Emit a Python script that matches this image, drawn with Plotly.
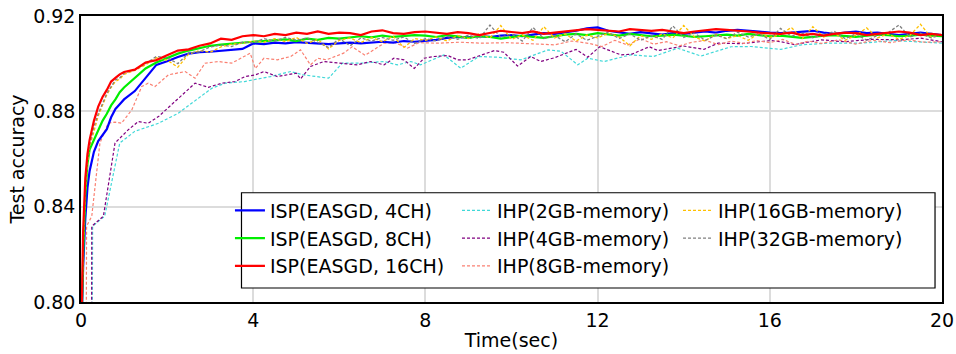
import plotly.graph_objects as go

# ---------------- data ----------------
t_early = [0.0, 0.05, 0.1, 0.15, 0.2, 0.3, 0.4, 0.5, 0.6, 0.7, 0.8, 0.9, 1.0]
t_late = [1.25, 1.5, 1.75, 2.0, 2.25, 2.5, 2.75, 3.0, 3.25, 3.5, 3.75, 4.0,
          4.25, 4.5, 4.75, 5.0, 5.25, 5.5, 5.75, 6.0, 6.25, 6.5, 6.75, 7.0,
          7.25, 7.5, 7.75, 8.0, 8.25, 8.5, 8.75, 9.0, 9.25, 9.5, 9.75, 10.0,
          10.25, 10.5, 10.75, 11.0, 11.25, 11.5, 11.75, 12.0, 12.25, 12.5, 12.75, 13.0,
          13.25, 13.5, 13.75, 14.0, 14.25, 14.5, 14.75, 15.0, 15.25, 15.5, 15.75, 16.0,
          16.25, 16.5, 16.75, 17.0, 17.25, 17.5, 17.75, 18.0, 18.25, 18.5, 18.75, 19.0,
          19.25, 19.5, 19.75, 20.0]
t_grid = t_early + t_late

isp_4ch = [0.78, 0.815, 0.835, 0.848, 0.855, 0.863, 0.8675, 0.870, 0.8725, 0.8775, 0.881, 0.883, 0.885,
           0.8885, 0.894, 0.8995, 0.901, 0.9028, 0.9042, 0.9048, 0.905, 0.9055, 0.906, 0.9062, 0.9085,
           0.9082, 0.9088, 0.9085, 0.909, 0.9088, 0.9085, 0.9082, 0.9085, 0.9088, 0.9085, 0.909, 0.9092,
           0.9088, 0.9095, 0.9092, 0.9095, 0.910, 0.9108, 0.9112, 0.911, 0.9115, 0.9112, 0.9118, 0.912,
           0.9115, 0.9122, 0.9128, 0.9125, 0.913, 0.9138, 0.9148, 0.9152, 0.9138, 0.913, 0.9125, 0.9132,
           0.9128, 0.9122, 0.9128, 0.9125, 0.913, 0.9135, 0.913, 0.9138, 0.9142, 0.914, 0.9135, 0.913,
           0.9128, 0.913, 0.9135, 0.9138, 0.913, 0.9125, 0.913, 0.9135, 0.9128, 0.913, 0.9125, 0.912,
           0.9125, 0.913, 0.9125, 0.912]

isp_8ch = [0.78, 0.82, 0.845, 0.858, 0.864, 0.868, 0.872, 0.876, 0.879, 0.8825, 0.885, 0.888, 0.890,
           0.894, 0.898, 0.9005, 0.9025, 0.9042, 0.9055, 0.9065, 0.9075, 0.908, 0.9085, 0.909, 0.9092,
           0.9095, 0.9098, 0.9102, 0.9095, 0.9105, 0.910, 0.9108, 0.9105, 0.911, 0.9115, 0.911, 0.9118,
           0.9112, 0.9115, 0.912, 0.9118, 0.9112, 0.912, 0.9115, 0.9108, 0.9115, 0.9112, 0.9105, 0.911,
           0.9118, 0.9112, 0.9108, 0.9115, 0.9122, 0.9125, 0.912, 0.9128, 0.9122, 0.9118, 0.9125, 0.912,
           0.9115, 0.9118, 0.9122, 0.9118, 0.9112, 0.9115, 0.912, 0.9122, 0.9118, 0.9125, 0.912, 0.9115,
           0.9118, 0.9112, 0.9108, 0.9112, 0.9118, 0.912, 0.9115, 0.9112, 0.9118, 0.9122, 0.912, 0.9115,
           0.9118, 0.9122, 0.9118, 0.9115]

isp_16ch = [0.78, 0.83, 0.852, 0.862, 0.868, 0.876, 0.882, 0.886, 0.889, 0.8925, 0.894, 0.8955, 0.8965,
            0.8975, 0.9005, 0.9015, 0.9035, 0.9055, 0.906, 0.9075, 0.9085, 0.9105, 0.910, 0.9115, 0.912,
            0.9115, 0.9125, 0.912, 0.913, 0.9125, 0.9135, 0.9125, 0.913, 0.9128, 0.912, 0.9135, 0.914,
            0.9128, 0.9125, 0.9132, 0.9135, 0.913, 0.9125, 0.9132, 0.9128, 0.912, 0.913, 0.9138, 0.9133,
            0.9128, 0.9135, 0.9125, 0.913, 0.9135, 0.9138, 0.9145, 0.9142, 0.914, 0.9135, 0.9145, 0.914,
            0.9138, 0.9142, 0.9135, 0.9128, 0.9135, 0.914, 0.9145, 0.9142, 0.914, 0.9135, 0.913, 0.9128,
            0.9125, 0.913, 0.912, 0.9125, 0.9118, 0.9125, 0.913, 0.9128, 0.912, 0.9125, 0.913, 0.9135,
            0.913, 0.912, 0.9125, 0.912]

ihp_16gb = [0.78, 0.822, 0.846, 0.858, 0.865, 0.872, 0.878, 0.8825, 0.887, 0.890, 0.8925, 0.8935, 0.8955,
            0.8972, 0.8995, 0.9025, 0.9015, 0.8985, 0.904, 0.9055, 0.9048, 0.907, 0.9082, 0.9085, 0.9095,
            0.909, 0.9105, 0.9092, 0.911, 0.9085, 0.9102, 0.9062, 0.9098, 0.9108, 0.9088, 0.911, 0.9092,
            0.9115, 0.9068, 0.9105, 0.9098, 0.9112, 0.9095, 0.9118, 0.9105, 0.9125, 0.9108, 0.916, 0.9102,
            0.912, 0.9098, 0.9155, 0.9108, 0.9125, 0.9095, 0.912, 0.9108, 0.9128, 0.9112, 0.9075, 0.9118,
            0.9102, 0.9125, 0.9108, 0.916, 0.9112, 0.9095, 0.9125, 0.9105, 0.9118, 0.9098, 0.9128, 0.911,
            0.9122, 0.9152, 0.9105, 0.9155, 0.9112, 0.9128, 0.9098, 0.912, 0.915, 0.9108, 0.9125, 0.9102,
            0.9118, 0.9165, 0.911, 0.9125]

ihp_32gb = [0.78, 0.825, 0.848, 0.86, 0.866, 0.8736, 0.879, 0.8834, 0.8875, 0.8904, 0.8932, 0.894, 0.896,
            0.8975, 0.900, 0.903, 0.9025, 0.900, 0.9045, 0.905, 0.907, 0.9078, 0.9072, 0.909, 0.9088,
            0.9105, 0.9095, 0.911, 0.9098, 0.9108, 0.909, 0.9068, 0.9105, 0.9075, 0.9108, 0.9095, 0.911,
            0.9098, 0.9112, 0.9085, 0.9105, 0.9095, 0.9115, 0.9102, 0.912, 0.9105, 0.9162, 0.911, 0.9125,
            0.9095, 0.9152, 0.9105, 0.9118, 0.9092, 0.9125, 0.9098, 0.9115, 0.9132, 0.9105, 0.9125, 0.9098,
            0.9118, 0.9102, 0.9158, 0.911, 0.9128, 0.9098, 0.912, 0.9105, 0.9132, 0.9112, 0.9125, 0.9102,
            0.9148, 0.9115, 0.9128, 0.9108, 0.912, 0.9135, 0.9105, 0.9125, 0.9098, 0.9118, 0.913, 0.9162,
            0.9112, 0.9128, 0.9108, 0.9122]

t_2gb = [0.26, 0.27, 0.55, 0.9, 1.25, 1.8, 2.26, 2.73, 3.04, 3.35, 3.8, 4.4, 4.87, 5.17, 5.75, 6.07,
         6.5, 7.03, 7.35, 7.66, 7.89, 8.43, 8.82, 9.24, 9.68, 10.22, 10.85, 11.15, 11.54, 11.77, 12.15,
         12.77, 13.3, 13.86, 14.4, 15.1, 15.56, 16.26, 16.73, 17.35, 18.12, 18.9, 19.5, 20.0]
ihp_2gb = [0.78, 0.8318, 0.836, 0.8667, 0.8716, 0.875, 0.8792, 0.8855, 0.8897, 0.8918, 0.8925, 0.8946,
           0.8967, 0.8953, 0.8939, 0.9002, 0.9002, 0.9009, 0.8995, 0.9009, 0.8995, 0.9037, 0.8981, 0.903,
           0.9027, 0.9016, 0.9058, 0.9052, 0.8995, 0.9023, 0.9009, 0.9037, 0.903, 0.9065, 0.9032, 0.9071,
           0.9072, 0.906, 0.9079, 0.9086, 0.9086, 0.9097, 0.9092, 0.9086]

t_4gb = [0.245, 0.25, 0.52, 0.79, 1.1, 1.33, 1.56, 1.8, 2.18, 2.65, 2.96, 3.27, 3.58, 3.81, 4.05, 4.25,
         4.56, 5.0, 5.1, 5.33, 5.64, 5.96, 6.42, 6.73, 7.04, 7.27, 7.5, 7.74, 7.97, 8.2, 8.52, 8.75, 8.98,
         9.6, 9.82, 10.14, 10.45, 10.68, 11.0, 11.5, 11.77, 12.05, 12.54, 12.8, 13.2, 13.4, 14.0, 14.47,
         14.8, 15.33, 16.03, 16.26, 16.57, 17.2, 17.73, 18.36, 19.05, 19.5, 20.0]
ihp_4gb = [0.78, 0.8318, 0.836, 0.8667, 0.8723, 0.8757, 0.875, 0.8778, 0.8841, 0.8918, 0.8901, 0.8918,
           0.8925, 0.8946, 0.8953, 0.8967, 0.8946, 0.896, 0.8936, 0.8988, 0.9009, 0.9002, 0.8995, 0.9009,
           0.8995, 0.9023, 0.9016, 0.898, 0.9023, 0.903, 0.9034, 0.9016, 0.9016, 0.9055, 0.9048, 0.899,
           0.903, 0.9009, 0.9025, 0.906, 0.9027, 0.9071, 0.9037, 0.904, 0.9071, 0.9055, 0.9074, 0.906,
           0.9086, 0.9084, 0.9097, 0.9092, 0.908, 0.91, 0.9092, 0.9102, 0.91, 0.9107, 0.9092]

t_8gb = [0.12, 0.13, 0.25, 0.41, 0.44, 0.63, 0.79, 0.94, 1.18, 1.41, 1.56, 1.72, 2.03, 2.42, 2.65, 2.88,
         3.19, 3.5, 3.73, 3.93, 4.05, 4.25, 4.56, 4.87, 5.1, 5.33, 5.5, 5.7, 6.1, 6.3, 6.6, 7.04, 7.3,
         7.58, 7.85, 8.3, 8.8, 9.3, 9.9, 10.5, 11.0, 11.4, 11.8, 12.1, 12.4, 12.7, 13.0, 13.3, 13.6, 13.9,
         14.2, 14.5, 14.8, 15.1, 15.4, 15.7, 16.0, 16.3, 16.6, 16.9, 17.2, 17.6, 18.0, 18.4, 18.8, 19.2,
         19.6, 20.0]
ihp_8gb = [0.78, 0.8318, 0.836, 0.8639, 0.8667, 0.875, 0.8755, 0.875, 0.8806, 0.8904, 0.8918, 0.8904,
           0.8953, 0.8967, 0.8939, 0.9002, 0.9009, 0.9002, 0.9023, 0.9044, 0.898, 0.9023, 0.9016, 0.903,
           0.9058, 0.8995, 0.9023, 0.9016, 0.9044, 0.9071, 0.9035, 0.9086, 0.9088, 0.9065, 0.9088, 0.9086,
           0.909, 0.9086, 0.9088, 0.9084, 0.9079, 0.9095, 0.9085, 0.9072, 0.9098, 0.9078, 0.9105, 0.9082,
           0.9092, 0.9075, 0.909, 0.9098, 0.908, 0.9095, 0.9085, 0.9097, 0.9088, 0.9102, 0.908, 0.9095,
           0.9085, 0.91, 0.9082, 0.9098, 0.9088, 0.91, 0.909, 0.9092]

x_ticks = [0, 4, 8, 12, 16, 20]
y_ticks = [0.80, 0.84, 0.88, 0.92]

FONT = "DejaVu Sans"

# name, x, y, color, dash, width, legend, rank
series = [
    ("IHP(2GB-memory)", t_2gb, ihp_2gb, "#40D8D8", "3px,2px", 1.2, "legend2", 1),
    ("IHP(4GB-memory)", t_4gb, ihp_4gb, "#800080", "3px,2px", 1.2, "legend2", 2),
    ("IHP(8GB-memory)", t_8gb, ihp_8gb, "#FA8072", "3px,2px", 1.2, "legend2", 3),
    ("ISP(EASGD, 4CH)", t_grid, isp_4ch, "#0000FF", "solid", 2.2, "legend", 1),
    ("ISP(EASGD, 8CH)", t_grid, isp_8ch, "#00EE00", "solid", 2.2, "legend", 2),
    ("IHP(16GB-memory)", t_grid, ihp_16gb, "#FFC000", "3px,2px", 1.3, "legend3", 1),
    ("IHP(32GB-memory)", t_grid, ihp_32gb, "#808080", "3px,2px", 1.3, "legend3", 2),
    ("ISP(EASGD, 16CH)", t_grid, isp_16ch, "#FF0000", "solid", 2.2, "legend", 3),
]

fig = go.Figure()
for name, xs, ys, col, dash, w, lg, rk in series:
    fig.add_trace(go.Scatter(x=xs, y=ys, mode="lines", name=name,
                             line=dict(color=col, dash=dash, width=w),
                             legend=lg, legendrank=rk))

legend_common = dict(bgcolor="rgba(0,0,0,0)", borderwidth=0,
                     font=dict(family=FONT, size=19, color="black"),
                     xanchor="left", yanchor="top", orientation="v",
                     tracegroupgap=0, itemwidth=30)

fig.update_layout(
    width=956, height=354,
    margin=dict(l=81, r=14, t=16, b=52),
    paper_bgcolor="white", plot_bgcolor="white",
    font=dict(family=FONT, size=19, color="black"),
    showlegend=True,
    legend=dict(x=0.173, y=0.386, **legend_common),
    legend2=dict(x=0.4367, y=0.386, **legend_common),
    legend3=dict(x=0.6934, y=0.386, **legend_common),
    shapes=[dict(type="rect", xref="paper", yref="paper",
                 x0=0.1864, x1=0.9919, y0=0.049, y1=0.382,
                 line=dict(color="black", width=1.2), fillcolor="white", layer="above")],
)

fig.update_xaxes(range=[0, 20], tickvals=x_ticks, ticktext=[str(v) for v in x_ticks],
                 showgrid=True, gridcolor="#DCDCDC", gridwidth=1.5,
                 showline=True, linecolor="black", linewidth=2, mirror=True,
                 ticks="", zeroline=False, automargin=False,
                 title=dict(text="Time(sec)", font=dict(family=FONT, size=19), standoff=4),
                 tickfont=dict(family=FONT, size=19))
fig.update_yaxes(range=[0.80, 0.92], tickvals=y_ticks, ticktext=["%.2f" % v for v in y_ticks],
                 showgrid=True, gridcolor="#DCDCDC", gridwidth=1.5,
                 showline=True, linecolor="black", linewidth=1.5, mirror=True,
                 ticks="", zeroline=False, automargin=False,
                 title=dict(text="Test accuracy", font=dict(family=FONT, size=19), standoff=3),
                 tickfont=dict(family=FONT, size=19))

fig.write_html("out.html", config={"displayModeBar": False},
               post_script="document.body.style.margin='0px';document.body.style.overflow='hidden';")
